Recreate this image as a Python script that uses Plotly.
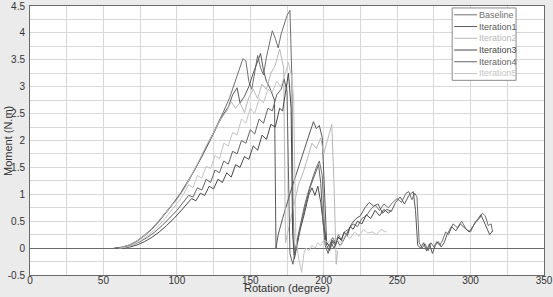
import plotly.graph_objects as go

# ---------------- data ----------------
baseline_x = [57, 62, 67, 72, 77, 82, 87, 92, 97, 102,
              107, 112, 117, 122, 127, 132, 136, 139, 142, 145,
              147, 149, 151, 153, 155, 157, 159, 161, 163, 165,
              167, 169, 171, 173, 175, 177, 178.3, 179, 180, 181.5,
              183, 185, 187, 189, 191, 193, 195, 197, 199, 200.5,
              202, 204, 206, 208, 210, 212, 214, 217, 220, 223,
              226, 229, 232, 235, 238, 241, 244, 247, 250, 253,
              256, 258, 260, 262, 263.5, 265, 267, 269, 271, 273,
              275, 277, 279, 281, 283, 285, 288, 291, 294, 297,
              300, 303, 306, 308, 310, 312, 314, 315]
baseline_y = [0, 0.01, 0.05, 0.12, 0.22, 0.34, 0.48, 0.64, 0.82, 1.0,
              1.22, 1.45, 1.7, 1.98, 2.25, 2.55, 2.8, 3.05, 3.3, 3.52,
              3.48, 3.1, 2.95, 3.3, 3.58, 3.35, 3.22, 3.55, 3.82, 4.04,
              3.9, 3.72, 3.98, 4.15, 4.32, 4.42, 3.2, 1.0, -0.12, 0.1,
              0.3, 0.55, 0.8, 1.0, 1.2, 1.35, 1.5, 1.62, 1.35, 0.4,
              0.1, 0.05, 0.2, 0.1, 0.25, 0.15, 0.3, 0.35, 0.45, 0.4,
              0.55, 0.6, 0.72, 0.8, 0.7, 0.82, 0.75, 0.85, 0.92, 0.85,
              1.02, 1.05, 0.9, 1.02, 0.95, 0.1, 0.0, 0.08, -0.05, 0.1,
              0.02, 0.12, 0.05, 0.15, 0.3, 0.25, 0.45, 0.38, 0.5, 0.35,
              0.3, 0.48, 0.55, 0.65, 0.6, 0.42, 0.45, 0.3]

iter1_x = [58, 63, 68, 73, 78, 83, 88, 93, 98, 103,
           108, 113, 118, 123, 128, 132, 135, 138, 141, 143,
           146, 149, 152, 155, 157, 159, 161, 163, 165, 166.5,
           167.5, 169, 172, 175, 178, 181, 184, 187, 190, 193,
           195, 197, 199, 200.5, 202, 204, 206, 208, 210, 213,
           216, 219, 222, 225, 228, 231, 234, 237, 240, 243,
           246, 249, 252, 255, 258, 261, 262.5, 264, 266, 268,
           270, 272, 274, 276, 278, 280, 282, 284, 287, 290,
           293, 296, 299, 302, 305, 307, 309, 311, 313, 315]
iter1_y = [0, 0.02, 0.06, 0.13, 0.23, 0.35, 0.5, 0.66, 0.84, 1.03,
           1.25, 1.5, 1.75, 2.02, 2.3, 2.5, 2.62, 2.85, 2.98, 2.7,
           2.82, 3.0, 3.25, 3.45, 3.62, 3.3, 3.1, 3.0, 2.85, 2.75,
           0.0, 0.25, 0.55, 0.85, 1.1, 1.35, 1.6, 1.85, 2.1, 2.35,
           2.22, 2.28, 2.05, 0.9, 0.1, 0.02, 0.15, 0.08, 0.2, 0.12,
           0.3, 0.45, 0.55, 0.6, 0.75, 0.85, 0.78, 0.82, 0.65, 0.72,
           0.68, 0.85, 0.95, 0.82, 0.98, 1.05, 0.7, 0.05, 0.0, 0.1,
           -0.05, 0.08, -0.1, 0.05, 0.12, 0.02, 0.1, 0.25, 0.4, 0.32,
           0.45, 0.38, 0.3, 0.42, 0.55, 0.62, 0.5, 0.38, 0.25, 0.32]

iter2_x = [60, 65, 70, 75, 80, 85, 90, 95, 100, 105,
           110, 115, 120, 125, 130, 134, 137, 140, 143, 146,
           149, 152, 155, 158, 161, 164, 167, 170, 171.5, 172.7,
           174, 177, 180, 183, 186, 189, 192, 195, 198, 200,
           202, 204, 205.5, 207, 208.5, 209.5]
iter2_y = [0, 0.03, 0.09, 0.17, 0.28, 0.42, 0.58, 0.75, 0.9, 1.1,
           1.35, 1.62, 1.9, 2.15, 2.4, 2.55, 2.72, 2.6, 2.7, 2.52,
           2.8, 2.95, 2.78, 3.05, 2.95, 3.25, 3.4, 3.7, 3.5, 3.35,
           0.1, 0.45, 0.85, 1.2, 1.4, 1.7, 1.95, 1.85, 2.05, 1.75,
           1.95, 2.2, 2.3, 1.2, -0.3, -0.05]

iter3_x = [63, 68, 73, 78, 83, 88, 93, 98, 103, 107,
           110, 113, 116, 119, 122, 125, 128, 131, 134, 137,
           140, 143, 146, 149, 152, 155, 158, 161, 164, 167,
           170, 172, 174, 176, 177.8, 178.8, 180, 182, 184, 186,
           188, 190, 192, 194, 196, 198, 200, 202, 204, 206,
           208, 210, 212, 214, 216, 218, 220, 223, 226, 229,
           232, 235, 238, 241, 244, 246]
iter3_y = [0, 0.02, 0.06, 0.12, 0.2, 0.3, 0.42, 0.55, 0.7, 0.82,
           0.92, 0.88, 1.02, 0.98, 1.15, 1.1, 1.28, 1.22, 1.4, 1.32,
           1.55, 1.5, 1.7, 1.65, 1.9, 1.82, 2.1, 2.02, 2.3, 2.25,
           2.6, 2.55, 2.9, 3.25, 2.6, 0.3, -0.2, 0.1, 0.35, 0.55,
           0.8, 1.0, 1.12, 0.98, 1.15, 0.85, 0.4, 0.05, -0.05, 0.12,
           0.05, 0.2, 0.15, 0.3, 0.22, 0.4, 0.35, 0.5, 0.45, 0.62,
           0.55, 0.7, 0.6, 0.72, 0.65, 0.7]

iter4_x = [60, 65, 70, 75, 80, 85, 90, 95, 100, 104,
           108, 111, 114, 117, 120, 123, 126, 129, 132, 135,
           138, 141, 144, 147, 150, 153, 156, 159, 162, 165,
           168, 171, 173, 175, 176, 177, 179, 181, 183, 185,
           187, 189, 191, 193, 195, 196.5, 198, 199.5, 201, 203,
           205, 207, 209, 211, 213]
iter4_y = [0, 0.02, 0.06, 0.12, 0.2, 0.3, 0.42, 0.56, 0.7, 0.84,
           0.98, 0.95, 1.12, 1.08, 1.28, 1.22, 1.45, 1.4, 1.62, 1.56,
           1.8, 1.75, 2.0, 1.95, 2.2, 2.12, 2.4, 2.32, 2.6, 2.55,
           2.85, 2.95, 3.15, 2.9, 1.0, -0.1, -0.3, 0.0, 0.25, 0.5,
           0.75, 0.95, 1.15, 1.3, 1.45, 1.55, 1.2, 0.5, 0.05, -0.1,
           0.1, 0.0, 0.15, 0.05, 0.1]

iter5_x = [61, 66, 71, 76, 81, 86, 91, 96, 101, 105,
           108, 111, 114, 117, 120, 123, 126, 129, 132, 135,
           138, 141, 144, 147, 150, 153, 156, 159, 162, 165,
           168, 171, 174, 176, 178, 179.5, 181, 183, 185, 186.5,
           188, 190, 192, 194, 196, 198, 200, 203, 206, 209,
           212, 215, 218, 221, 224, 227, 230, 233, 236, 239,
           242, 243]
iter5_y = [0, 0.02, 0.07, 0.15, 0.25, 0.37, 0.52, 0.68, 0.86, 1.02,
           1.18, 1.12, 1.35, 1.3, 1.52, 1.48, 1.72, 1.66, 1.95, 1.9,
           2.15, 2.1, 2.4, 2.32, 2.6, 2.5, 2.78, 2.7, 2.95, 2.9,
           3.1, 3.0, 3.3, 3.45, 3.2, 2.8, 0.2, -0.2, -0.45, -0.1,
           0.0, -0.05, 0.05, 0.0, 0.1, 0.05, 0.15, 0.1, 0.2, 0.15,
           0.1, 0.25, 0.18, 0.3, 0.22, 0.35, 0.28, 0.3, 0.25, 0.35,
           0.3, 0.32]

series_names = ["Baseline", "Iteration1", "Iteration2", "Iteration3", "Iteration4", "Iteration5"]
series_x = [baseline_x, iter1_x, iter2_x, iter3_x, iter4_x, iter5_x]
series_y = [baseline_y, iter1_y, iter2_y, iter3_y, iter4_y, iter5_y]
series_colors = ["#707070", "#595959", "#b8b8b8", "#474747", "#646464", "#c4c4c4"]

x_ticks = [0, 50, 100, 150, 200, 250, 300, 350]
y_ticks = [-0.5, 0, 0.5, 1, 1.5, 2, 2.5, 3, 3.5, 4, 4.5]
y_tick_text = ["-0.5", "0", "0.5", "1", "1.5", "2", "2.5", "3", "3.5", "4", "4.5"]

# ---------------- figure ----------------
W, H = 553, 297
ML, MR, MT, MB = 30, 8, 0, 22
PW, PH = W - ML - MR, H - MT - MB

fig = go.Figure()
for name, xs, ys, col in zip(series_names, series_x, series_y, series_colors):
    fig.add_trace(go.Scatter(x=xs, y=ys, mode="lines", name=name,
                             line=dict(color=col, width=1), showlegend=False))

FONT = "Liberation Sans, Arial, sans-serif"
fig.update_layout(
    width=W, height=H,
    margin=dict(l=ML, r=MR, t=MT, b=MB, pad=0),
    paper_bgcolor="#ebebeb", plot_bgcolor="#ffffff",
    font=dict(family=FONT, size=10, color="#333333"),
    showlegend=False,
)
fig.update_xaxes(range=[0, 350], tickvals=x_ticks, ticks="", showgrid=True,
                 gridcolor="#d8d8d8", gridwidth=1,
                 minor=dict(dtick=25, tick0=0, showgrid=True, gridcolor="#d8d8d8"),
                 zeroline=False, showline=True, linecolor="#6a6a6a", linewidth=1,
                 mirror=True, tickfont=dict(size=10, color="#333333"), ticklabelstandoff=-4,
                 ticklabeloverflow="allow")
fig.update_yaxes(range=[-0.5, 4.5], tickvals=y_ticks, ticktext=y_tick_text, ticks="",
                 showgrid=True, gridcolor="#d8d8d8", gridwidth=1,
                 minor=dict(dtick=0.25, tick0=0, showgrid=True, gridcolor="#d8d8d8"),
                 zeroline=True, zerolinecolor="#6a6a6a", zerolinewidth=1,
                 showline=True, linecolor="#6a6a6a", linewidth=1, mirror=True,
                 tickfont=dict(size=10, color="#333333"), ticklabelstandoff=2,
                 ticklabeloverflow="allow")

def px_x(p):
    return (p - ML) / PW

def px_y(p):
    return (MT + PH - p) / PH

annotations = [
    dict(text="Rotation (degree)", xref="paper", yref="paper", x=px_x(287), y=px_y(296.5),
         xanchor="center", yanchor="bottom", showarrow=False, font=dict(size=11, color="#333333")),
    dict(text="Moment (N.m)", xref="paper", yref="paper", x=px_x(8), y=px_y(138),
         xanchor="center", yanchor="middle", textangle=-90, showarrow=False,
         font=dict(size=11, color="#333333")),
]
shapes = [dict(type="rect", xref="paper", yref="paper", x0=px_x(453), x1=px_x(517),
               y0=px_y(76), y1=px_y(2), line=dict(color="#8a8a8a", width=1),
               fillcolor="#ffffff", layer="above")]
legend_rows = [9, 21, 33, 45, 57, 69]
for name, col, row in zip(series_names, series_colors, legend_rows):
    shapes.append(dict(type="line", xref="paper", yref="paper", x0=px_x(455), x1=px_x(478),
                       y0=px_y(row), y1=px_y(row), line=dict(color=col, width=1), layer="above"))
    annotations.append(dict(text=name, xref="paper", yref="paper", x=px_x(478), y=px_y(row),
                            xanchor="left", yanchor="middle", showarrow=False,
                            font=dict(size=9, color=col)))
fig.update_layout(annotations=annotations, shapes=shapes)

fig.write_html("out.html")
